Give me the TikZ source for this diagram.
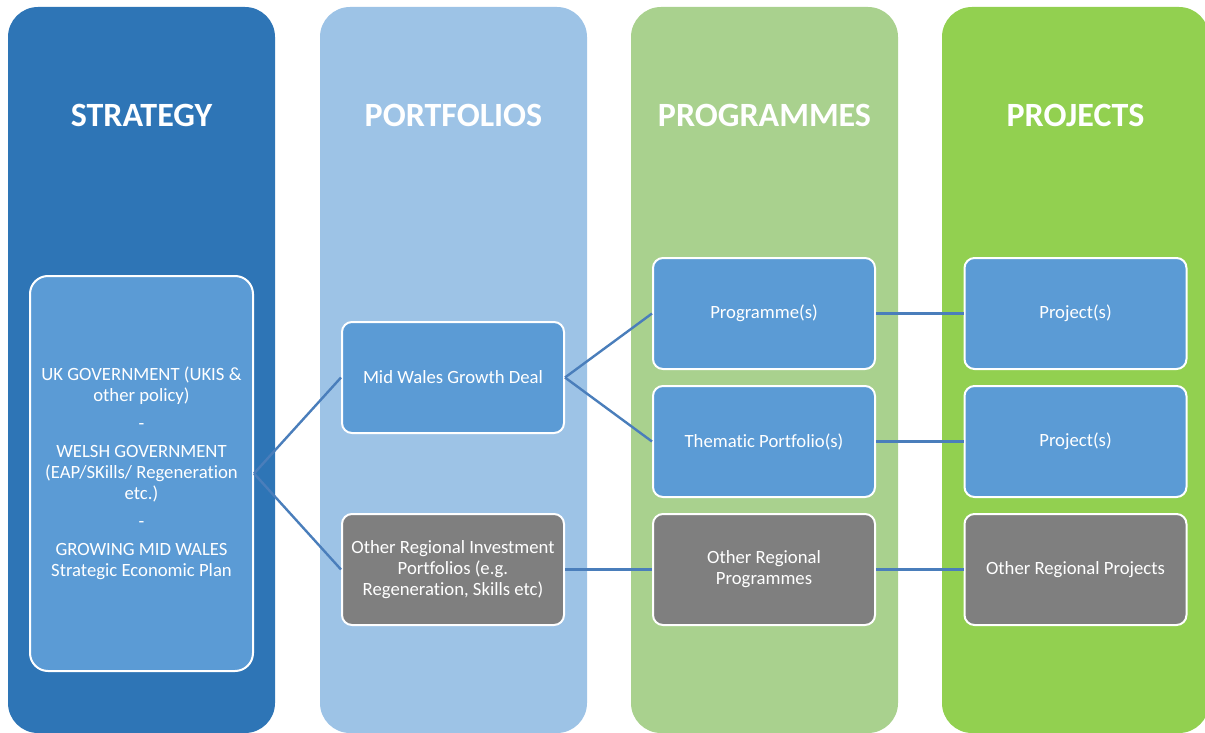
\documentclass[tikz,border=0pt]{standalone}
\usepackage{fontspec}
\setmainfont{Carlito}[Ligatures=CommonOff]
\definecolor{colstrat}{HTML}{2E75B6}
\definecolor{colport}{HTML}{9DC3E6}
\definecolor{colprog}{HTML}{A9D18E}
\definecolor{colproj}{HTML}{92D050}
\definecolor{boxblue}{HTML}{5B9BD5}
\definecolor{boxgray}{HTML}{7F7F7F}
\definecolor{linkcol}{HTML}{4A7EBB}
\begin{document}
\begin{tikzpicture}[x=1pt,y=-1pt,
  heading/.style={text=white, font=\bfseries\fontsize{34}{36}\selectfont, inner sep=0pt},
  box/.style={draw=white, line width=2pt, rounded corners=10pt, minimum width=222pt,
    minimum height=111pt, align=center, text=white, inner sep=2pt,
    font=\fontsize{18.7}{21}\selectfont},
  bluebox/.style={box, fill=boxblue},
  graybox/.style={box, fill=boxgray},
  link/.style={draw=linkcol, line width=2.4pt}]
\useasboundingbox (0,0) rectangle (1205,733);
% columns
\fill[colstrat, rounded corners=30pt] (8,7) rectangle (275,733);
\fill[colport, rounded corners=30pt] (320,7) rectangle (587,733);
\fill[colprog, rounded corners=30pt] (631,7) rectangle (898,733);
\fill[colproj, rounded corners=30pt] (942,7) rectangle (1209,733);
% headings
\node[heading] (hstrat) at (141.5,115) {STRATEGY};
\node[heading] (hport) at (453.5,115) {PORTFOLIOS};
\node[heading] (hprog) at (764.5,115) {PROGRAMMES};
\node[heading] (hproj) at (1075.5,115) {PROJECTS};
% nodes
\node[bluebox, minimum width=223pt, minimum height=395pt, rounded corners=18pt] (strat) at (141.5,473.5)
  {UK GOVERNMENT (UKIS \&\\ other policy)\\[7pt] -\\[7pt] WELSH GOVERNMENT\\ (EAP/SKills/ Regeneration\\ etc.)\\[7pt] -\\[7pt] GROWING MID WALES\\ Strategic Economic Plan};
\node[bluebox] (mwgd) at (453,377.5) {Mid Wales Growth Deal};
\node[graybox] (orip) at (453,569.5) {Other Regional Investment\\ Portfolios (e.g.\\ Regeneration, Skills etc)};
\node[bluebox] (prog) at (764,313.5) {Programme(s)};
\node[bluebox] (them) at (764,441.5) {Thematic Portfolio(s)};
\node[graybox] (orprog) at (764,569.5) {Other Regional\\ Programmes};
\node[bluebox] (proj1) at (1075.5,313.5) {Project(s)};
\node[bluebox] (proj2) at (1075.5,441.5) {Project(s)};
\node[graybox] (orproj) at (1075.5,569.5) {Other Regional Projects};
% connectors
\draw[link] (strat.east) -- (mwgd.west);
\draw[link] (strat.east) -- (orip.west);
\draw[link] (mwgd.east) -- (prog.west);
\draw[link] (mwgd.east) -- (them.west);
\draw[link] (orip.east) -- (orprog.west);
\draw[link] (prog.east) -- (proj1.west);
\draw[link] (them.east) -- (proj2.west);
\draw[link] (orprog.east) -- (orproj.west);
\end{tikzpicture}
\end{document}
